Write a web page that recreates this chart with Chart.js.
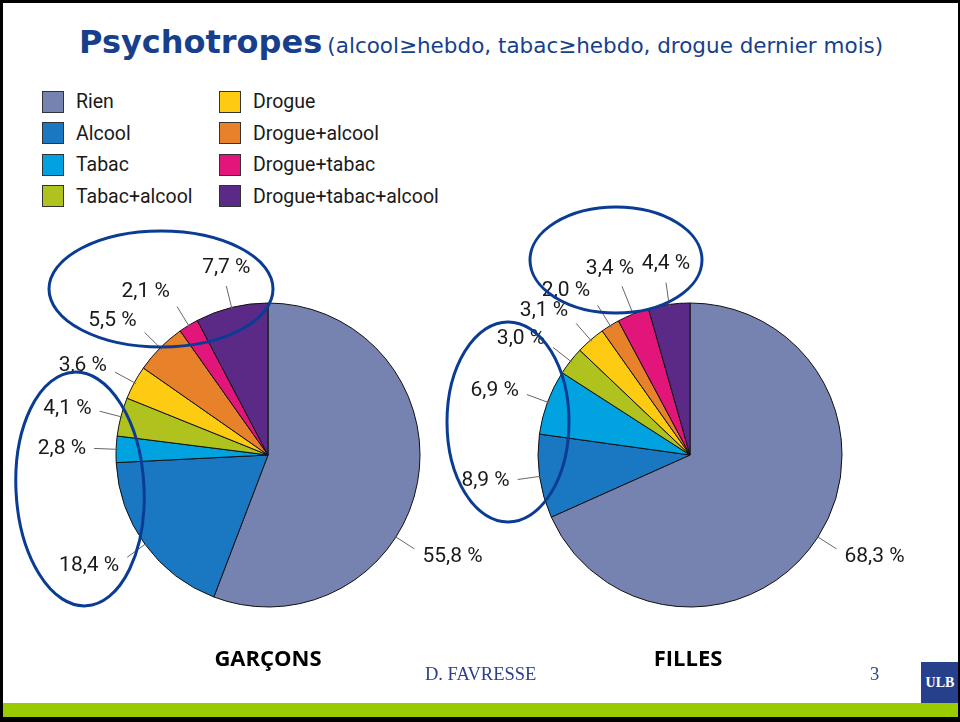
<!DOCTYPE html>
<html>
<head>
<meta charset="utf-8">
<script src="https://cdn.jsdelivr.net/npm/chart.js@4.4.0/dist/chart.umd.min.js"></script>
<style>
  html, body { margin: 0; padding: 0; background: #fff; }
  #slide { position: relative; width: 960px; height: 722px; overflow: hidden; background: #fff; }
  #frame { position: absolute; left: 0; top: 0; width: 960px; height: 722px; box-sizing: border-box;
           border-style: solid; border-color: #000; border-width: 3px 2px 5px 3px; }
  #title { position: absolute; left: 79px; top: 23px; white-space: nowrap; color: #173f8c;
           font-family: "DejaVu Sans", sans-serif; }
  #title b { font-size: 32px; }
  #title span { font-size: 21.5px; }
  #legend { position: absolute; left: 42px; top: 86px; display: grid;
            grid-template-columns: 177px 230px; grid-auto-flow: column; grid-template-rows: repeat(4, 31.5px);
            font-family: Roboto, sans-serif; font-size: 19.5px; color: #1a1a1a; }
  .item { display: flex; align-items: center; }
  .sw { width: 20px; height: 20px; border: 1px solid #333; margin-right: 12px; }
  canvas { position: absolute; }
  #garcons { left: 15px; top: 202px; }
  #filles { left: 437px; top: 202px; }
  svg { position: absolute; left: 0; top: 0; }
  .cap { position: absolute; top: 642px; width: 200px; text-align: center;
         font-family: "Open Sans", sans-serif; font-weight: bold; font-size: 22px; color: #000; }
  .foot { position: absolute; top: 664px; font-family: "Liberation Serif", serif; font-size: 18.5px; color: #2b3f8f; }
  #ulb { position: absolute; left: 921px; top: 662px; width: 38px; height: 41px; background: #27408b;
         color: #fff; font-family: "Liberation Serif", serif; font-weight: bold; font-size: 14px;
         text-align: center; line-height: 42px; }
  #bar { position: absolute; left: 0; top: 703px; width: 960px; height: 14px; background: #99cc00; }
</style>
</head>
<body>
<div id="slide">
  <div id="title"><b>Psychotropes</b> <span>(alcool≥hebdo, tabac≥hebdo, drogue dernier mois)</span></div>
  <div id="legend"></div>
  <canvas id="garcons" width="506" height="506"></canvas>
  <canvas id="filles" width="506" height="506"></canvas>
  <svg width="960" height="722">
    <g fill="none" stroke="#0b3c93" stroke-width="3">
      <ellipse cx="161" cy="289" rx="112" ry="58"/>
      <ellipse cx="80" cy="489" rx="64" ry="117" transform="rotate(-3 80 489)"/>
      <ellipse cx="508" cy="422" rx="61" ry="100"/>
      <ellipse cx="616" cy="260" rx="86" ry="53"/>
    </g>
  </svg>
  <div class="cap" style="left:168px">GARÇONS</div>
  <div class="cap" style="left:588px">FILLES</div>
  <div class="foot" style="left:425px">D. FAVRESSE</div>
  <div class="foot" style="left:870px">3</div>
  <div id="bar"></div>
  <div id="ulb">ULB</div>
  <div id="frame"></div>
</div>
<script>
const categories = ['Rien', 'Alcool', 'Tabac', 'Tabac+alcool', 'Drogue', 'Drogue+alcool', 'Drogue+tabac', 'Drogue+tabac+alcool'];
const garconsValues = [55.8, 18.4, 2.8, 4.1, 3.6, 5.5, 2.1, 7.7];
const fillesValues = [68.3, 8.9, 6.9, 3.0, 3.1, 2.0, 3.4, 4.4];
const colors = ['#7682b0', '#1a78c2', '#00a3e0', '#afc21d', '#fccb12', '#e8822a', '#e2157a', '#5a2a86'];

// legend, two columns of four
const legend = document.getElementById('legend');
categories.forEach((name, i) => {
    const item = document.createElement('div');
    item.className = 'item';
    item.innerHTML = '<div class="sw" style="background:' + colors[i] + '"></div>' + name;
    legend.appendChild(item);
});

const fmt = (v) => v.toFixed(1).replace('.', ',') + ' %';

const smooth = (a, b, t) => {
    const s = Math.min(1, Math.max(0, (t - a) / (b - a)));
    return s * s * (3 - 2 * s);
};

// value labels with little leader lines
const pieLabels = {
    id: 'pieLabels',
    afterDatasetsDraw(chart) {
        const ctx = chart.ctx;
        const values = chart.data.datasets[0].data;
        const placed = [];
        ctx.save();
        ctx.font = '21px Roboto';
        ctx.textAlign = 'center';
        ctx.textBaseline = 'middle';
        chart.getDatasetMeta(0).data.forEach((arc, i) => {
            const { x, y, startAngle, endAngle, outerRadius } =
                arc.getProps(['x', 'y', 'startAngle', 'endAngle', 'outerRadius'], true);
            let mid = (startAngle + endAngle) / 2;
            // big slice: put its label down to the right like the original
            const low = 0.57;
            if (endAngle - startAngle > Math.PI && startAngle < low && endAngle > low) {
                mid = low;
            }
            const ux = Math.cos(mid), uy = Math.sin(mid);
            const text = fmt(values[i]);
            const w = ctx.measureText(text).width, h = 19;
            // text beside the leader on the sides, above it near the top
            const ox = Math.sign(ux) * (w / 2 + 8) * smooth(0.25, 0.55, Math.abs(ux));
            const oy = Math.sign(uy) * Math.pow(Math.abs(uy), 1.5) * 19;
            let r1 = outerRadius + 22;
            let cx, cy;
            for (let k = 0; k < 30; k++) {
                cx = x + ux * r1 + ox;
                cy = y + uy * r1 + oy;
                const hit = placed.some(p => Math.abs(p.x - cx) < (p.w + w) / 2 + 4 && Math.abs(p.y - cy) < h + 1);
                if (!hit) break;
                r1 += 2;
            }
            placed.push({ x: cx, y: cy, w: w });
            ctx.strokeStyle = '#666';
            ctx.lineWidth = 1;
            ctx.beginPath();
            ctx.moveTo(x + ux * (outerRadius - 2), y + uy * (outerRadius - 2));
            ctx.lineTo(x + ux * r1, y + uy * r1);
            ctx.stroke();
            ctx.fillStyle = '#1a1a1a';
            ctx.fillText(text, cx, cy);
        });
        ctx.restore();
    }
};

function makePie(id, values) {
    return new Chart(document.getElementById(id), {
        type: 'pie',
        data: {
            labels: categories,
            datasets: [{
                data: values,
                backgroundColor: colors,
                borderColor: '#111',
                borderWidth: 1
            }]
        },
        options: {
            responsive: false,
            animation: false,
            events: [],
            radius: 152,
            plugins: {
                legend: { display: false },
                tooltip: { enabled: false }
            }
        },
        plugins: [pieLabels]
    });
}

makePie('garcons', garconsValues);
makePie('filles', fillesValues);
</script>
</body>
</html>
